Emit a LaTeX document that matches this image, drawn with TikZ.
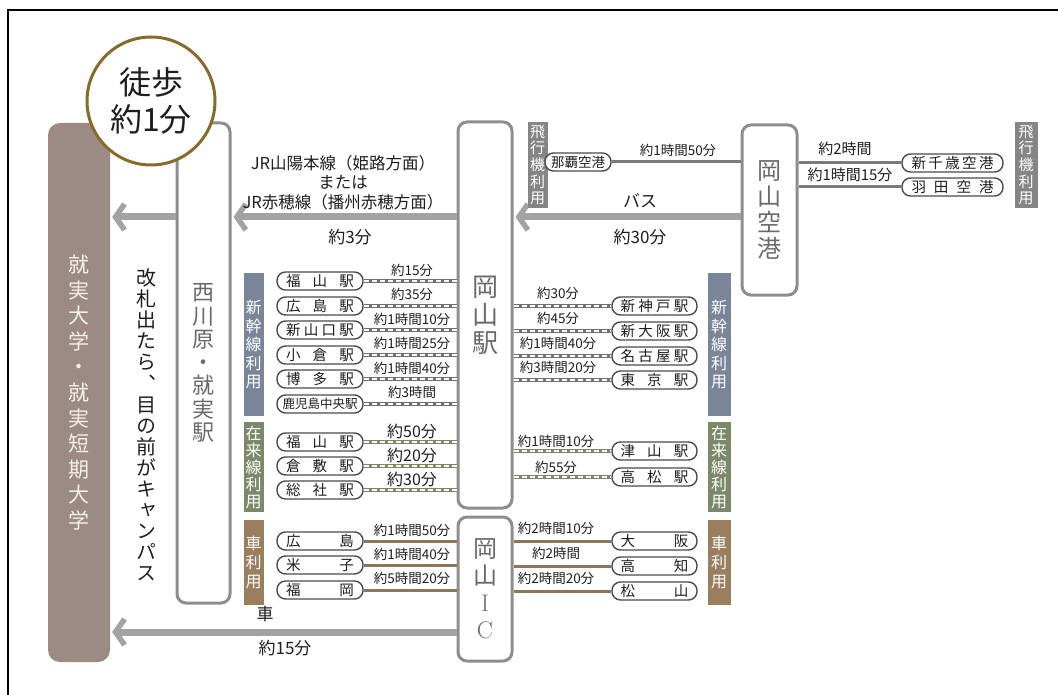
\documentclass[tikz,border=0pt]{standalone}
\usepackage{fontspec}
\setmainfont{Noto Sans CJK JP}
\newfontfamily\jpv[RawFeature=+vert]{Noto Sans CJK JP}
\usetikzlibrary{arrows.meta}
\newcommand\fsz[2]{\fontsize{#1}{#2}\selectfont}
\newcommand\spr[2][68pt]{\makebox[#1]{#2}}
\definecolor{boxgray}{HTML}{8E8E8E}
\definecolor{vgray}{HTML}{6A6A6A}
\definecolor{arrgray}{HTML}{A3A3A3}
\definecolor{pillgray}{HTML}{4A4A4A}
\definecolor{shgray}{HTML}{707070}
\definecolor{zaig}{HTML}{7C8866}
\definecolor{carb}{HTML}{8E765A}
\definecolor{univc}{HTML}{9C8A84}
\definecolor{univt}{HTML}{F6F0EA}
\definecolor{circc}{HTML}{8A6A2C}
\definecolor{tagfly}{HTML}{858585}
\definecolor{tagshin}{HTML}{7A859A}
\definecolor{tagzai}{HTML}{7B8968}
\definecolor{tagcar}{HTML}{9A7E5E}
\definecolor{txt}{HTML}{1E1E1E}
\definecolor{flyline}{HTML}{7A7A7A}
\begin{document}
\begin{tikzpicture}[x=1pt,y=-1pt,
  box/.style={draw=boxgray, line width=3pt, rounded corners=9pt, fill=white, inner sep=0pt, align=center, text=vgray},
  univ/.style={fill=univc, rounded corners=12pt, inner sep=0pt, align=center, text=univt},
  pill/.style={draw=pillgray, line width=1.4pt, rounded corners=8.5pt, fill=white, minimum height=18pt, inner sep=0pt, font=\fsz{14.5}{14.5}, text=txt},
  tag/.style={inner sep=0pt, text=white, align=center},
  lbl/.style={inner sep=0pt, font=\fsz{13.5}{13.5}, text=txt},
  biglbl/.style={inner sep=0pt, font=\fsz{17}{17}, text=txt},
  shin/.style={draw=shgray, line width=3.6pt, postaction={draw=white, line width=1.2pt, dash pattern=on 5pt off 3pt}},
  zai/.style={draw=zaig, line width=3.6pt, postaction={draw=white, line width=1.2pt, dash pattern=on 5pt off 3pt}},
  carl/.style={draw=carb, line width=3pt},
  fl/.style={draw=flyline, line width=3pt},
  big/.style={draw=arrgray, line width=7pt, -{Straight Barb[length=9pt,width=26pt,line width=5.5pt]}, shorten >=2pt}
]
\useasboundingbox (0,0) rectangle (1058,695);
\fill[white] (0,0) rectangle (1058,695);
\draw[line width=2pt] (8,695) -- (8,10) -- (1058,10);

% main boxes
\node[univ, minimum width=62pt, minimum height=539pt, font=\fsz{21}{25.6}] (univ) at (79,392.5) {就\\実\\大\\学\\・\\就\\実\\短\\期\\大\\学};
\node[box, minimum width=53pt, minimum height=480pt, font=\fsz{22}{23.3}] (nishi) at (203.5,363) {西\\川\\原\\・\\就\\実\\駅};
\node[box, minimum width=54pt, minimum height=386pt, font=\fsz{26}{28}] (okst) at (485,315) {岡\\山\\駅};
\node[box, minimum width=54pt, minimum height=144pt, font=\fsz{24}{27}] (ic) at (485,589) {岡\\山\\{\fontfamily{lmr}\selectfont I}\\{\fontfamily{lmr}\selectfont C}};
\node[box, minimum width=55pt, minimum height=170pt, font=\fsz{24}{26}] (apt) at (769.5,210) {岡\\山\\空\\港};

\node[inner sep=0pt, align=center, text=txt, font=\jpv\fsz{20}{21.1}] (kai) at (146,425) {改\\札\\出\\た\\ら\\、\\目\\の\\前\\が\\キ\\ャ\\ン\\パ\\ス};

% big arrows
\coordinate (ya) at (0,217);
\coordinate (yb) at (0,632);
\draw[big] (nishi.west |- ya) -- (univ.east |- ya);
\draw[big] (okst.west |- ya) -- (nishi.east |- ya);
\draw[big] (apt.west |- ya) -- (okst.east |- ya);
\draw[big] (ic.west |- yb) -- (univ.east |- yb);

% walk circle
\node[circle, draw=circc, line width=3pt, fill=white, minimum size=128pt, inner sep=0pt, align=center, font=\fsz{32}{37}, text=txt] (walk) at (151,101) {徒歩\\約1分};

% arrow labels
\node[inner sep=0pt, font=\fsz{16.5}{16.5}, text=txt] (jr1) at (343,163) {JR山陽本線（姫路方面）};
\node[inner sep=0pt, font=\fsz{16.5}{16.5}, text=txt] (jr2) at (343,182) {または};
\node[inner sep=0pt, font=\fsz{16.5}{16.5}, text=txt] (jr3) at (343,202) {JR赤穂線（播州赤穂方面）};
\node[biglbl] (t3) at (350,237) {約3分};
\node[biglbl] (bus) at (640,201) {バス};
\node[biglbl] (t30) at (640,237) {約30分};
\node[biglbl] (car) at (265,614) {車};
\node[biglbl] (t15) at (285,648) {約15分};

% airport
\node[tag, fill=tagfly, minimum width=20pt, minimum height=86pt, font=\fsz{15}{16.7}] (fly1) at (537.5,165) {飛\\行\\機\\利\\用};
\node[tag, fill=tagfly, minimum width=23pt, minimum height=86pt, font=\fsz{15}{16.7}] (fly2) at (1026,165) {飛\\行\\機\\利\\用};
\node[pill, minimum width=66pt, font=\fsz{13.5}{13.5}] (naha) at (578,162) {那覇空港};
\node[pill, minimum width=101pt] (cts) at (952.5,163) {\spr[82pt]{新\hfill 千\hfill 歳\hfill 空\hfill 港}};
\node[pill, minimum width=101pt] (hnd) at (952.5,187) {\spr[82pt]{羽\hfill 田\hfill 空\hfill 港}};
\draw[fl] (naha.east) -- (naha.east -| apt.west);
\draw[fl] (apt.east |- cts.west) -- (cts.west);
\draw[fl] (apt.east |- hnd.west) -- (hnd.west);
\node[lbl] (lnaha) at (678,150) {約1時間50分};
\node[lbl, font=\fsz{15}{15}] (lcts) at (845,149) {約2時間};
\node[lbl, font=\fsz{15}{15}] (lhnd) at (850,175) {約1時間15分};

% tags
\node[tag, fill=tagshin, minimum width=20pt, minimum height=143pt, font=\fsz{16}{18.5}] (tsl) at (253.5,344.5) {新\\幹\\線\\利\\用};
\node[tag, fill=tagshin, minimum width=23pt, minimum height=143pt, font=\fsz{16}{18.5}] (tsr) at (719,344.5) {新\\幹\\線\\利\\用};
\node[tag, fill=tagzai, minimum width=20pt, minimum height=90pt, font=\fsz{16}{17}] (tzl) at (253.5,467) {在\\来\\線\\利\\用};
\node[tag, fill=tagzai, minimum width=23pt, minimum height=90pt, font=\fsz{16}{17}] (tzr) at (719,467) {在\\来\\線\\利\\用};
\node[tag, fill=tagcar, minimum width=20pt, minimum height=85pt, font=\fsz{16}{19}] (tcl) at (253.5,562.5) {車\\利\\用};
\node[tag, fill=tagcar, minimum width=23pt, minimum height=85pt, font=\fsz{16}{19}] (tcr) at (719,562.5) {車\\利\\用};

% shinkansen left
\node[pill, minimum width=86pt] (s1) at (320,281) {\spr{福\hfill 山\hfill 駅}};
\node[pill, minimum width=86pt] (s2) at (320,306) {\spr{広\hfill 島\hfill 駅}};
\node[pill, minimum width=86pt] (s3) at (320,330) {\spr{新\hfill 山\hfill 口\hfill 駅}};
\node[pill, minimum width=86pt] (s4) at (320,355) {\spr{小\hfill 倉\hfill 駅}};
\node[pill, minimum width=86pt] (s5) at (320,379) {\spr{博\hfill 多\hfill 駅}};
\node[pill, minimum width=86pt, font=\fsz{12.5}{12.5}] (s6) at (320,404) {\spr[74pt]{鹿児島中央駅}};
\foreach \n in {s1,s2,s3,s4,s5,s6} \draw[shin] (\n.east) -- (\n.east -| okst.west);
\node[lbl] (ls1) at (412,270) {約15分};
\node[lbl] (ls2) at (412,294) {約35分};
\node[lbl] (ls3) at (412,319) {約1時間10分};
\node[lbl] (ls4) at (412,343) {約1時間25分};
\node[lbl] (ls5) at (412,368) {約1時間40分};
\node[lbl] (ls6) at (412,392) {約3時間};

% shinkansen right
\node[pill, minimum width=85pt] (n1) at (654.5,306) {\spr{新\hfill 神\hfill 戸\hfill 駅}};
\node[pill, minimum width=85pt] (n2) at (654.5,331) {\spr{新\hfill 大\hfill 阪\hfill 駅}};
\node[pill, minimum width=85pt] (n3) at (654.5,356) {\spr{名\hfill 古\hfill 屋\hfill 駅}};
\node[pill, minimum width=85pt] (n4) at (654.5,380) {\spr{東\hfill 京\hfill 駅}};
\foreach \n in {n1,n2,n3,n4} \draw[shin] (okst.east |- \n.west) -- (\n.west);
\node[lbl] (ln1) at (558,293) {約30分};
\node[lbl] (ln2) at (558,318) {約45分};
\node[lbl] (ln3) at (558,343) {約1時間40分};
\node[lbl] (ln4) at (558,367) {約3時間20分};

% zairaisen left
\node[pill, minimum width=86pt] (z1) at (320,442) {\spr{福\hfill 山\hfill 駅}};
\node[pill, minimum width=86pt] (z2) at (320,466) {\spr{倉\hfill 敷\hfill 駅}};
\node[pill, minimum width=86pt] (z3) at (320,490) {\spr{総\hfill 社\hfill 駅}};
\foreach \n in {z1,z2,z3} \draw[zai] (\n.east) -- (\n.east -| okst.west);
\node[lbl, font=\fsz{16}{16}] (lz1) at (412,431) {約50分};
\node[lbl, font=\fsz{16}{16}] (lz2) at (412,455) {約20分};
\node[lbl, font=\fsz{16}{16}] (lz3) at (412,479) {約30分};

% zairaisen right
\node[pill, minimum width=85pt] (y1) at (654.5,451) {\spr{津\hfill 山\hfill 駅}};
\node[pill, minimum width=85pt] (y2) at (654.5,477) {\spr{高\hfill 松\hfill 駅}};
\foreach \n in {y1,y2} \draw[zai] (okst.east |- \n.west) -- (\n.west);
\node[lbl] (ly1) at (556,441) {約1時間10分};
\node[lbl] (ly2) at (556,467) {約55分};

% car left
\node[pill, minimum width=86pt] (c1) at (320,541) {\spr{広\hfill 島}};
\node[pill, minimum width=86pt] (c2) at (320,565) {\spr{米\hfill 子}};
\node[pill, minimum width=86pt] (c3) at (320,590) {\spr{福\hfill 岡}};
\foreach \n in {c1,c2,c3} \draw[carl] (\n.east) -- (\n.east -| ic.west);
\node[lbl] (lc1) at (412,530) {約1時間50分};
\node[lbl] (lc2) at (412,554) {約1時間40分};
\node[lbl] (lc3) at (412,578) {約5時間20分};

% car right
\node[pill, minimum width=85pt] (d1) at (654.5,541) {\spr{大\hfill 阪}};
\node[pill, minimum width=85pt] (d2) at (654.5,566) {\spr{高\hfill 知}};
\node[pill, minimum width=85pt] (d3) at (654.5,591) {\spr{松\hfill 山}};
\foreach \n in {d1,d2,d3} \draw[carl] (ic.east |- \n.west) -- (\n.west);
\node[lbl] (ld1) at (556,528) {約2時間10分};
\node[lbl] (ld2) at (556,553) {約2時間};
\node[lbl] (ld3) at (556,578) {約2時間20分};
\end{tikzpicture}
\end{document}
